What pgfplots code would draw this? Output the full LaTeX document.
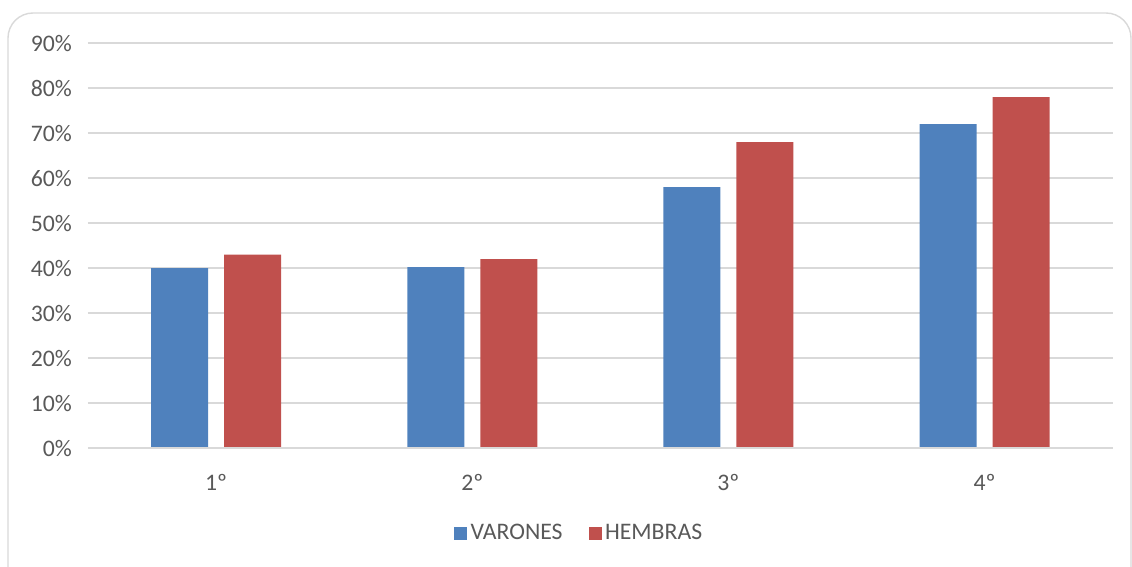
\documentclass[border=0pt]{standalone}
\usepackage{pgfplots}
\pgfplotsset{compat=1.18}
\usepackage{fontspec}
\setmainfont{Carlito}
\definecolor{varon}{HTML}{4F81BD}
\definecolor{hembra}{HTML}{C0504D}
\definecolor{gridc}{HTML}{D9D9D9}
\definecolor{txt}{HTML}{595959}
\begin{document}
\begin{tikzpicture}[x=0.02cm,y=0.02cm]
\useasboundingbox (0,0) rectangle (1132,566);
\draw[gridc, line width=0.8pt, rounded corners=0.5cm] (8,-30) -- (8,553) -- (1131,553) -- (1131,-30);
\begin{axis}[
    at={(1.76cm,2.36cm)}, anchor=south west,
    scale only axis,
    width=20.5cm, height=8.1cm,
    ybar=0.32cm, bar width=1.14cm,
    xmin=-0.5, xmax=3.5,
    ymin=0, ymax=90,
    xtick=data,
    xticklabels={1º,2º,3º,4º},
    ytick={0,10,...,90},
    yticklabel={\pgfmathprintnumber{\tick}\%},
    /pgf/number format/assume math mode=true,
    tick style={draw=none},
    axis line style={draw=none},
    ymajorgrids, grid style={gridc, line width=0.8pt},
    ticklabel style={font=\fontsize{13.5}{15}\selectfont, text=txt},
    yticklabel style={xshift=-0.2cm},
    xticklabel style={yshift=-0.25cm},
    legend style={at={(0.48,-0.21)}, anchor=center, draw=none,
        font=\fontsize{13.5}{15}\selectfont, text=txt,
        legend columns=2, /tikz/every even column/.append style={column sep=0.45cm}},
    legend image code/.code={\fill[#1] (0cm,-0.13cm) rectangle (0.26cm,0.13cm);},
]
\addplot[fill=varon, draw=none] coordinates {(0,40) (1,40.2) (2,58) (3,72)};
\addplot[fill=hembra, draw=none] coordinates {(0,43) (1,42) (2,68) (3,78)};
\legend{VARONES,HEMBRAS}
\draw[gridc, line width=0.8pt] (axis cs:-0.5,0) -- (axis cs:3.5,0);
\end{axis}
\end{tikzpicture}
\end{document}
